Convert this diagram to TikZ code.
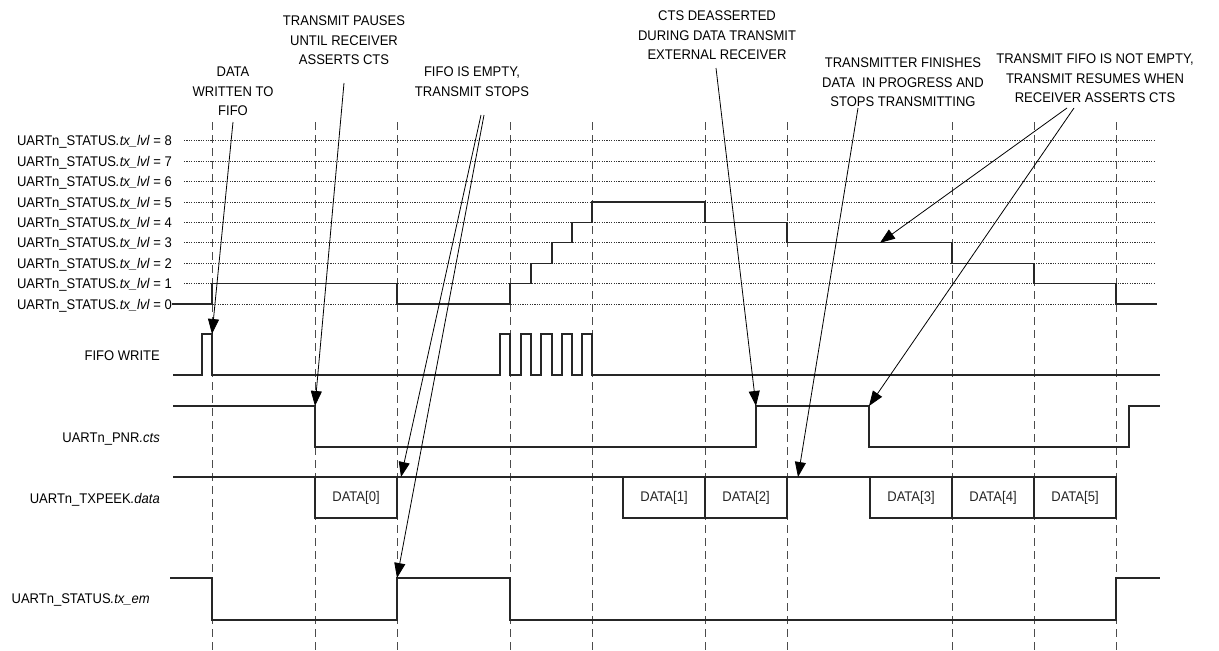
\documentclass[tikz,border=0pt]{standalone}
\usepackage{fontspec}
\setmainfont{Liberation Sans}[FakeStretch=0.93]
\usetikzlibrary{arrows.meta}
\begin{document}
\begin{tikzpicture}[x=1pt,y=-1pt,
  font=\fontsize{14}{19.5}\selectfont,
  sig/.style={line width=1.1pt, black!85},
  gridline/.style={line width=0.8pt, black!80, dash pattern=on 1.2pt off 1.2pt},
  guide/.style={line width=1pt, black!70, dash pattern=on 8pt off 5pt},
  lbl/.style={anchor=base east, inner sep=0pt},
  note/.style={align=center, anchor=north, inner sep=0pt},
  callout/.style={line width=0.8pt, -{Triangle[length=15pt,width=11pt]}},
  databox/.style={draw, line width=1.1pt, black!85, minimum width=82pt, minimum height=41pt, inner sep=0pt, outer sep=0pt, anchor=north west}
]
\useasboundingbox (0,0) rectangle (1219,651);

% guide lines
\foreach \gx in {212,315,397,510,592,705,787,952,1034,1116}
  \draw[guide] (\gx,122) -- (\gx,651);

% level rows
\foreach \k in {0,...,8} {
  \node[lbl] (lv\k) at (172,{304-20.4*\k+5}) {UARTn\_STATUS\textit{.tx\_lvl} = \k};
  \draw[gridline] (184,{304-20.4*\k}) -- (1155,{304-20.4*\k});
}

% tx_lvl signal
\draw[sig] (172,304) -- (212,304) -- (212,283.6) -- (397,283.6) -- (397,304) -- (510,304)
  -- (510,283.6) -- (531,283.6) -- (531,263.2) -- (552,263.2) -- (552,242.8) -- (572,242.8)
  -- (572,222.4) -- (592,222.4) -- (592,202) -- (705,202) -- (705,222.4) -- (787,222.4)
  -- (787,242.8) -- (952,242.8) -- (952,263.2) -- (1034,263.2) -- (1034,283.6) -- (1116,283.6)
  -- (1116,304) -- (1157,304);

% other signal labels
\node[lbl] (fw) at (160,360) {FIFO WRITE};
\node[lbl] (cts) at (160,442) {UARTn\_PNR\textit{.cts}};
\node[lbl] (peek) at (160,503) {UARTn\_TXPEEK\textit{.data}};
\node[lbl] (em) at (150,603) {UARTn\_STATUS\textit{.tx\_em}};

% FIFO WRITE
\draw[sig] (173,375) -- (202,375) -- (202,334) -- (212,334) -- (212,375) -- (500,375)
  -- (500,334) -- (510,334) -- (510,375) -- (521,375) -- (521,334) -- (531,334) -- (531,375)
  -- (541,375) -- (541,334) -- (552,334) -- (552,375) -- (562,375) -- (562,334) -- (572,334)
  -- (572,375) -- (582,375) -- (582,334) -- (592,334) -- (592,375) -- (1160,375);

% CTS
\draw[sig] (173,406) -- (315,406) -- (315,447) -- (756,447) -- (756,406) -- (869,406)
  -- (869,447) -- (1129,447) -- (1129,406) -- (1160,406);

% TXPEEK
\draw[sig] (173,477) -- (1116,477);
\node[databox] (d0) at (315,477) {DATA[0]};
\node[databox] (d1) at (623,477) {DATA[1]};
\node[databox] (d2) at (705,477) {DATA[2]};
\node[databox] (d3) at (870,477) {DATA[3]};
\node[databox] (d4) at (952,477) {DATA[4]};
\node[databox] (d5) at (1034,477) {DATA[5]};

% tx_em
\draw[sig] (170,578) -- (212,578) -- (212,620) -- (397,620) -- (397,578) -- (510,578)
  -- (510,620) -- (1116,620) -- (1116,578) -- (1160,578);

% annotations
\node[note] (n1) at (233,67) {DATA\\WRITTEN TO\\FIFO};
\node[note] (n2) at (344,16) {TRANSMIT PAUSES\\UNTIL RECEIVER\\ASSERTS CTS};
\node[note] (n3) at (472,67) {FIFO IS EMPTY,\\TRANSMIT STOPS};
\node[note] (n4) at (717,11) {CTS DEASSERTED\\DURING DATA TRANSMIT\\EXTERNAL RECEIVER};
\node[note] (n5) at (903,58) {TRANSMITTER FINISHES\\DATA\ \ IN PROGRESS AND\\STOPS TRANSMITTING};
\node[note] (n6) at (1095,54) {TRANSMIT FIFO IS NOT EMPTY,\\TRANSMIT RESUMES WHEN\\RECEIVER ASSERTS CTS};

\coordinate (s1) at (233,122);   \coordinate (e1) at (212,334);
\coordinate (s2) at (344,83);    \coordinate (e2) at (315,406);
\coordinate (s3a) at (481,115);  \coordinate (e3a) at (401,477);
\coordinate (s3b) at (484,115);  \coordinate (e3b) at (397,578);
\coordinate (s4) at (716,68);    \coordinate (e4) at (756,406);
\coordinate (s5) at (858,108);   \coordinate (e5) at (798,477);
\coordinate (s6a) at (1067,108); \coordinate (e6a) at (880,242.8);
\coordinate (s6b) at (1074,108); \coordinate (e6b) at (869,406);

\draw[callout] (s1) -- (e1);
\draw[callout] (s2) -- (e2);
\draw[callout] (s3a) -- (e3a);
\draw[callout] (s3b) -- (e3b);
\draw[callout] (s4) -- (e4);
\draw[callout] (s5) -- (e5);
\draw[callout] (s6a) -- (e6a);
\draw[callout] (s6b) -- (e6b);
\end{tikzpicture}
\end{document}
